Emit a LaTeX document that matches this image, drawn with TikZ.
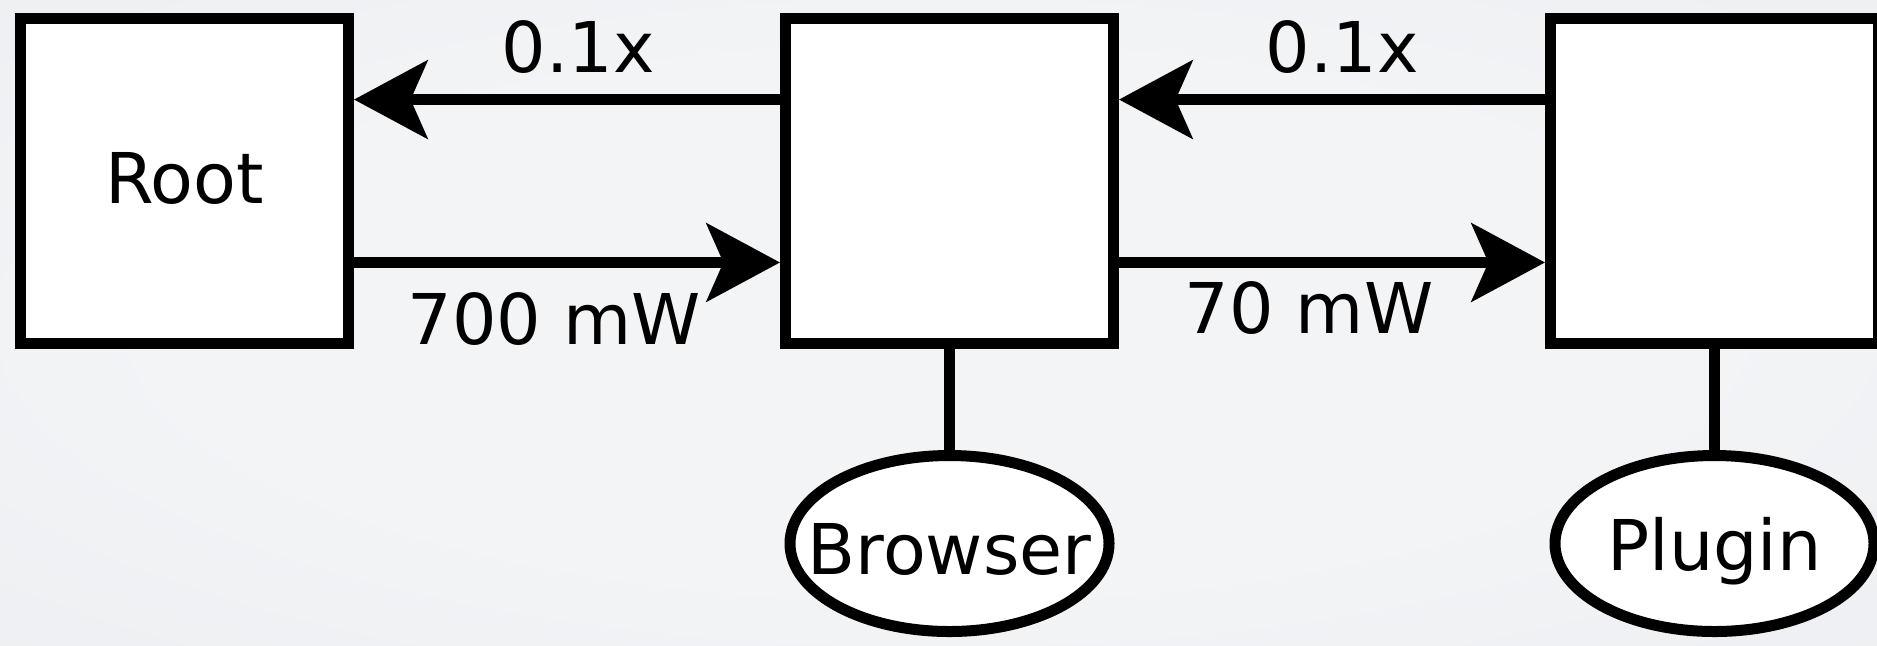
\documentclass[tikz,border=0pt]{standalone}
\usepackage{fontspec}
\setmainfont{DejaVu Sans}
\usetikzlibrary{arrows.meta,calc,shapes.geometric}
\definecolor{bgin}{RGB}{243,244,246}
\definecolor{bgout}{RGB}{226,228,233}
\pgfdeclareradialshading{bgglow}{\pgfpoint{0bp}{0bp}}{color(0bp)=(bgin); color(20bp)=(bgin); color(75bp)=(bgout)}
\begin{document}
\begin{tikzpicture}[x=0.5pt, y=-0.5pt, font=\fontsize{35pt}{42pt}\selectfont,
  box/.style={draw, line width=5.5pt, fill=white, minimum width=164pt,
    minimum height=162.8pt, inner sep=0pt},
  proc/.style={ellipse, draw, line width=5.5pt, fill=white, minimum width=159.5pt,
    minimum height=88pt, inner sep=0pt},
  flow/.style={line width=5.5pt, -{Stealth[length=36.7pt, width=39pt, inset=8.4pt]}},
  wire/.style={line width=5.5pt},
  lbl/.style={anchor=base, inner sep=0pt}]

% backdrop
\shade[shading=bgglow] (0,0) rectangle (1877,645);
\useasboundingbox (0,0) rectangle (1877,645);

% boxes
\node[box, label={[yshift=1.5pt]center:Root}] (root) at (184.5,181) {};
\node[box] (mid) at (949.5,181) {};
\node[box] (plug) at (1714.5,181) {};

% processes
\node[proc, label={[yshift=-3pt]center:Browser}] (browser) at (949.5,543.5) {};
\node[proc, label={[yshift=-3.8pt]center:Plugin}] (plugin) at (1714.5,543.5) {};

% links to processes
\draw[wire] (mid.south) -- (browser.north);
\draw[wire] (plug.south) -- (plugin.north);

% power flow between boxes
\draw[flow] ($(mid.north west)!0.258!(mid.south west)$) -- ($(root.north east)!0.258!(root.south east)$)
  node[lbl, pos=0.474, yshift=13.5pt] {0.1x};
\draw[flow] ($(root.north east)!0.742!(root.south east)$) -- ($(mid.north west)!0.742!(mid.south west)$)
  node[lbl, pos=0.47, yshift=-41pt] {700 mW};
\draw[flow] ($(plug.north west)!0.258!(plug.south west)$) -- ($(mid.north east)!0.258!(mid.south east)$)
  node[lbl, pos=0.476, yshift=13.5pt] {0.1x};
\draw[flow] ($(mid.north east)!0.742!(mid.south east)$) -- ($(plug.north west)!0.742!(plug.south west)$)
  node[lbl, pos=0.446, yshift=-35.5pt] {70 mW};
\end{tikzpicture}
\end{document}
